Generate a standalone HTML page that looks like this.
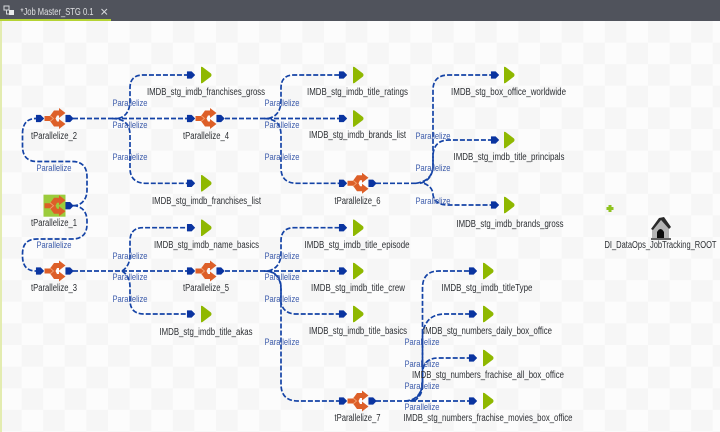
<!DOCTYPE html>
<html><head><meta charset="utf-8"><style>
html,body{margin:0;padding:0;width:720px;height:432px;overflow:hidden;background:#fff}
svg{display:block}
text{font-family:"Liberation Sans",sans-serif}
.n{font-size:10px;fill:#2c2f33;text-anchor:middle}
.p{font-size:9.6px;fill:#3d5cab;text-anchor:middle}
.c{fill:none;stroke:#1443a6;stroke-width:1.7;stroke-dasharray:5 2}
</style></head><body>
<svg width="720" height="432" viewBox="0 0 720 432" xmlns="http://www.w3.org/2000/svg">
<defs>
<pattern id="ck" x="0" y="21" width="43.2" height="43.2" patternUnits="userSpaceOnUse">
<rect width="43.2" height="43.2" fill="#fcfcfc"/>
<rect width="21.6" height="21.6" fill="#f6f6f6"/>
<rect x="21.6" y="21.6" width="21.6" height="21.6" fill="#f6f6f6"/>
</pattern>
<path id="ar" d="M-3.700,-3.300 H0.500 L3.700,0 L0.500,3.300 H-3.700 Z" fill="#0a34a0" stroke="#0a34a0" stroke-width="0.7" stroke-linejoin="round"/>
<g id="ic">
<path d="M-1,-8 H4 V-10.500 L10.500,-5.500 L4,-0.500 V-3 H2 L0.500,0 L2,3 H4 V0.500 L10.500,5.500 L4,10.500 V8 H-1 L-5,2.500 H-10.500 V-2.500 H-5 Z" fill="#dd5f28"/>
<path d="M-5,-3 L-1.500,0 L-5,3" fill="none" stroke="#f0a070" stroke-width="0.9"/>
</g>
<g id="nd"><use href="#ic"/><use href="#ar" x="-15"/><use href="#ar" x="14.500"/></g>
<path id="tg" d="M-5,-8 Q-5.500,-8.500 -3.500,-8 L5,-1.500 Q6,0 5,1.500 L-3.500,8 Q-5.500,8.500 -5,8 Z" fill="#8fb800"/>
</defs>
<rect width="720" height="432" fill="url(#ck)"/>
<rect x="0" y="21" width="2" height="411" fill="#e3ecb0"/>
<rect width="720" height="21" fill="#50535c"/>
<rect x="0" y="19" width="111" height="2" fill="#b5d334"/>
<path d="M4,6 H9 V10 H4 Z M6.500,10 V14 H10" fill="none" stroke="#d6d8dc" stroke-width="1"/>
<rect x="9" y="10" width="5" height="5" fill="#e8e9ea"/>
<text x="20.500" y="15" font-size="10.500" fill="#dfe0e2" textLength="73" lengthAdjust="spacingAndGlyphs">*Job Master_STG 0.1</text>
<path d="M101.500,9 L107,14.500 M107,9 L101.500,14.500" stroke="#d6d8dc" stroke-width="1"/>

<g>
<path class="c" d="M73,205.700 C82,205.700 87,199 87,190 V177 Q87,161.500 72,161.500 H37 Q22.500,161.500 22.500,146 V134 Q22.500,118.500 36,118.500"/>
<path class="c" d="M73,205.700 C82,205.700 87,212 87,221 V224 Q87,239 72,239 H37 Q22.500,239 22.500,254 V256 Q22.500,271 36,271"/>
<path class="c" d="M73,118.500 H187"/>
<path class="c" d="M118,118.500 Q130,116 130,100 V88 Q130,75 143,75 H192"/>
<path class="c" d="M112,118.500 Q130,118.500 130,135 V168 Q130,183.300 146,183.300 H192"/>
<path class="c" d="M73,271 H187"/>
<path class="c" d="M122,271 Q130,266 130,255 V241 Q130,227.700 143,227.700 H192"/>
<path class="c" d="M122,271 Q130,276 130,287 V300 Q130,314 144,314 H192"/>
<path class="c" d="M225,118.500 H340"/>
<path class="c" d="M268,118.500 Q281,116 281,100 V88 Q281,75 294,75 H340"/>
<path class="c" d="M264,118.500 Q281,118.500 281,135 V168 Q281,183.300 297,183.300 H339"/>
<path class="c" d="M225,271 H340"/>
<path class="c" d="M268,271 Q281,268 281,253 V241 Q281,227.700 294,227.700 H340"/>
<path class="c" d="M268,271 Q281,274 281,290 V303 Q284,314 296,314 H340"/>
<path class="c" d="M264,271 Q281,271 281,288 V384 Q281,401 298,401 H339"/>
<path class="c" d="M376,183.300 H418"/>
<path class="c" d="M416,183.300 Q433,181 433,165 V90 Q433,75 449,75 H494"/>
<path class="c" d="M420,183.300 Q433,180 433,165 V155 Q434,140 449,140 H494"/>
<path class="c" d="M424,183.300 Q433,187 433,195 Q435,205 448,205 H494"/>
<path class="c" d="M376,401 H470"/>
<path class="c" d="M405,401 Q422.500,400 422.500,380 V288 Q422.500,271 439,271 H470"/>
<path class="c" d="M410,401 Q422.500,398 422.500,380 V335 Q425,314 445,314 H470"/>
<path class="c" d="M414,401 Q422.500,396 422.500,385 V372 Q424,358 438,358 H470"/>
</g>

<rect x="43.500" y="194.700" width="22" height="22" fill="#9ccc3c"/>
<use href="#ic" x="55" y="205.700"/><use href="#ar" x="69.500" y="205.700"/>
<use href="#nd" x="55" y="118.500"/>
<use href="#nd" x="206" y="118.500"/>
<use href="#nd" x="55" y="271"/>
<use href="#nd" x="206" y="271"/>
<use href="#nd" x="358" y="183.300"/>
<use href="#nd" x="358" y="401"/>

<use href="#ar" x="191" y="75"/><use href="#ar" x="191" y="183.300"/><use href="#ar" x="191" y="227.700"/><use href="#ar" x="191" y="314"/>
<use href="#ar" x="343" y="75"/><use href="#ar" x="343" y="118.500"/><use href="#ar" x="343" y="227.700"/><use href="#ar" x="343" y="271"/><use href="#ar" x="343" y="314"/>
<use href="#ar" x="495" y="75"/><use href="#ar" x="495" y="140"/><use href="#ar" x="495" y="205"/>
<use href="#ar" x="473" y="271"/><use href="#ar" x="473" y="314"/><use href="#ar" x="473" y="358"/><use href="#ar" x="473" y="401"/>

<use href="#tg" x="206" y="75"/><use href="#tg" x="206" y="183.300"/><use href="#tg" x="206" y="227.700"/><use href="#tg" x="206" y="314"/>
<use href="#tg" x="358" y="75"/><use href="#tg" x="358" y="118.500"/><use href="#tg" x="358" y="227.700"/><use href="#tg" x="358" y="271"/><use href="#tg" x="358" y="314"/>
<use href="#tg" x="509" y="75"/><use href="#tg" x="509" y="140"/><use href="#tg" x="509" y="205"/>
<use href="#tg" x="488" y="271"/><use href="#tg" x="488" y="314"/><use href="#tg" x="488" y="358"/><use href="#tg" x="488" y="401"/>

<path d="M608.500,205 h3 v2 h2 v3 h-2 v2 h-3 v-2 h-2 v-3 h2 Z" fill="#8fc31f"/>
<g>
<path d="M652,238 V228 L660,219 L669,229 V238 Z" fill="#b5b5b5"/>
<path d="M651,229 L659,218 L664,217 L671,227 L669,229 L661,220 L653,230 Z" fill="#2b2b2b"/>
<path d="M657,238 V232 Q660.500,226 664,232 V238 Z" fill="#0c0c0c"/>
<path d="M651,239 H671" stroke="#333" stroke-width="1.500"/>
</g>

<text class="n" x="54" y="139" textLength="46" lengthAdjust="spacingAndGlyphs">tParallelize_2</text>
<text class="n" x="54" y="226" textLength="46" lengthAdjust="spacingAndGlyphs">tParallelize_1</text>
<text class="n" x="54" y="291" textLength="46" lengthAdjust="spacingAndGlyphs">tParallelize_3</text>
<text class="n" x="206" y="139" textLength="46" lengthAdjust="spacingAndGlyphs">tParallelize_4</text>
<text class="n" x="206" y="291" textLength="46" lengthAdjust="spacingAndGlyphs">tParallelize_5</text>
<text class="n" x="357.500" y="204" textLength="46" lengthAdjust="spacingAndGlyphs">tParallelize_6</text>
<text class="n" x="357.500" y="421" textLength="46" lengthAdjust="spacingAndGlyphs">tParallelize_7</text>

<text class="n" x="206" y="95" textLength="118" lengthAdjust="spacingAndGlyphs">IMDB_stg_imdb_franchises_gross</text>
<text class="n" x="206.500" y="204" textLength="109" lengthAdjust="spacingAndGlyphs">IMDB_stg_imdb_franchises_list</text>
<text class="n" x="206.500" y="248" textLength="105" lengthAdjust="spacingAndGlyphs">IMDB_stg_imdb_name_basics</text>
<text class="n" x="206" y="335" textLength="93" lengthAdjust="spacingAndGlyphs">IMDB_stg_imdb_title_akas</text>
<text class="n" x="357.500" y="95" textLength="101" lengthAdjust="spacingAndGlyphs">IMDB_stg_imdb_title_ratings</text>
<text class="n" x="357.500" y="138" textLength="97" lengthAdjust="spacingAndGlyphs">IMDB_stg_imdb_brands_list</text>
<text class="n" x="357" y="248" textLength="105" lengthAdjust="spacingAndGlyphs">IMDB_stg_imdb_title_episode</text>
<text class="n" x="358" y="291" textLength="94" lengthAdjust="spacingAndGlyphs">IMDB_stg_imdb_title_crew</text>
<text class="n" x="358" y="334" textLength="98" lengthAdjust="spacingAndGlyphs">IMDB_stg_imdb_title_basics</text>
<text class="n" x="508.500" y="95" textLength="115" lengthAdjust="spacingAndGlyphs">IMDB_stg_box_office_worldwide</text>
<text class="n" x="509" y="160" textLength="111" lengthAdjust="spacingAndGlyphs">IMDB_stg_imdb_title_principals</text>
<text class="n" x="510" y="227" textLength="107" lengthAdjust="spacingAndGlyphs">IMDB_stg_imdb_brands_gross</text>
<text class="n" x="487" y="291" textLength="91" lengthAdjust="spacingAndGlyphs">IMDB_stg_imdb_titleType</text>
<text class="n" x="487.500" y="334" textLength="129" lengthAdjust="spacingAndGlyphs">IMDB_stg_numbers_daily_box_office</text>
<text class="n" x="488" y="378" textLength="152" lengthAdjust="spacingAndGlyphs">IMDB_stg_numbers_frachise_all_box_office</text>
<text class="n" x="488" y="421" textLength="169" lengthAdjust="spacingAndGlyphs">IMDB_stg_numbers_frachise_movies_box_office</text>
<text class="n" x="660.500" y="248" textLength="112" lengthAdjust="spacingAndGlyphs">DI_DataOps_JobTracking_ROOT</text>

<g>
<text class="p" x="130" y="106" textLength="35" lengthAdjust="spacingAndGlyphs">Parallelize</text>
<text class="p" x="130" y="128" textLength="35" lengthAdjust="spacingAndGlyphs">Parallelize</text>
<text class="p" x="130" y="160" textLength="35" lengthAdjust="spacingAndGlyphs">Parallelize</text>
<text class="p" x="54" y="171" textLength="35" lengthAdjust="spacingAndGlyphs">Parallelize</text>
<text class="p" x="54" y="248" textLength="35" lengthAdjust="spacingAndGlyphs">Parallelize</text>
<text class="p" x="130" y="259" textLength="35" lengthAdjust="spacingAndGlyphs">Parallelize</text>
<text class="p" x="130" y="280" textLength="35" lengthAdjust="spacingAndGlyphs">Parallelize</text>
<text class="p" x="130" y="302" textLength="35" lengthAdjust="spacingAndGlyphs">Parallelize</text>
<text class="p" x="282" y="106" textLength="35" lengthAdjust="spacingAndGlyphs">Parallelize</text>
<text class="p" x="282" y="128" textLength="35" lengthAdjust="spacingAndGlyphs">Parallelize</text>
<text class="p" x="282" y="160" textLength="35" lengthAdjust="spacingAndGlyphs">Parallelize</text>
<text class="p" x="282" y="259" textLength="35" lengthAdjust="spacingAndGlyphs">Parallelize</text>
<text class="p" x="282" y="280" textLength="35" lengthAdjust="spacingAndGlyphs">Parallelize</text>
<text class="p" x="282" y="302" textLength="35" lengthAdjust="spacingAndGlyphs">Parallelize</text>
<text class="p" x="282" y="345" textLength="35" lengthAdjust="spacingAndGlyphs">Parallelize</text>
<text class="p" x="433" y="139" textLength="35" lengthAdjust="spacingAndGlyphs">Parallelize</text>
<text class="p" x="433" y="171" textLength="35" lengthAdjust="spacingAndGlyphs">Parallelize</text>
<text class="p" x="433" y="204" textLength="35" lengthAdjust="spacingAndGlyphs">Parallelize</text>
<text class="p" x="422" y="345" textLength="35" lengthAdjust="spacingAndGlyphs">Parallelize</text>
<text class="p" x="422" y="367" textLength="35" lengthAdjust="spacingAndGlyphs">Parallelize</text>
<text class="p" x="422" y="389" textLength="35" lengthAdjust="spacingAndGlyphs">Parallelize</text>
<text class="p" x="422" y="410" textLength="35" lengthAdjust="spacingAndGlyphs">Parallelize</text>
</g>
</svg>
</body></html>
